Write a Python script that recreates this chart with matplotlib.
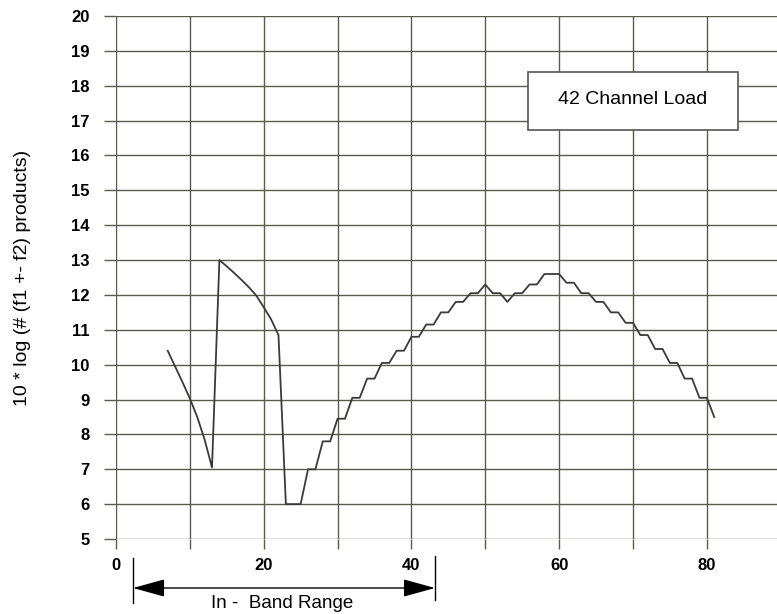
import matplotlib
matplotlib.use("Agg")
import matplotlib.pyplot as plt
from matplotlib.patches import Rectangle

plt.rcParams['font.family'] = ['Liberation Sans', 'DejaVu Sans']

# ---- data ----
channel = list(range(7, 82))
products_db = [10.4, 9.95, 9.5, 9.03, 8.5, 7.85, 7.05,            # 7-13
               13.0, 12.82, 12.63, 12.43, 12.22, 11.98, 11.65, 11.3, 10.85,  # 14-22
               6.0, 6.0, 6.0, 7.0, 7.0, 7.8, 7.8,                 # 23-29
               8.45, 8.45, 9.05, 9.05, 9.6, 9.6, 10.05, 10.05,    # 30-37
               10.4, 10.4, 10.8, 10.8, 11.15, 11.15, 11.5, 11.5,  # 38-45
               11.8, 11.8, 12.05, 12.05, 12.3, 12.05, 12.05, 11.8,  # 46-53
               12.05, 12.05, 12.3, 12.3, 12.6, 12.6, 12.6,        # 54-60
               12.35, 12.35, 12.05, 12.05, 11.8, 11.8, 11.5, 11.5,  # 61-68
               11.2, 11.2, 10.85, 10.85, 10.45, 10.45, 10.05, 10.05,  # 69-76
               9.6, 9.6, 9.05, 9.05, 8.5]                         # 77-81

x_ticks = [0, 10, 20, 30, 40, 50, 60, 70, 80]
x_tick_labels = ['0', '', '20', '', '40', '', '60', '', '80']
y_ticks = list(range(5, 21))
band_start, band_end = 2.3, 43.2
legend_text = "42 Channel Load"

W, H = 777, 614
fig = plt.figure(figsize=(W / 100, H / 100), dpi=100)
left, right, top, bottom = 116, 777, 16, 539
ax = fig.add_axes([left / W, 1 - bottom / H, (right - left) / W, (bottom - top) / H])

grid_col = '#5b5b4c'
ax.set_xlim(0, 89.5)
ax.set_ylim(5, 20)
for s in ax.spines.values():
    s.set_visible(False)
ax.set_xticks(x_ticks)
ax.set_xticklabels(x_tick_labels)
ax.set_yticks(y_ticks)
ax.set_yticklabels([str(v) for v in y_ticks])
ax.grid(True, color=grid_col, linewidth=1.0)
ax.tick_params(axis='y', direction='out', length=9, width=1.0, color=grid_col, pad=10, labelsize=12)
ax.tick_params(axis='x', direction='out', length=7, width=1.0, color=grid_col, pad=7, labelsize=12)
for lab in ax.get_xticklabels() + ax.get_yticklabels():
    lab.set_fontweight('bold')

ax.plot(channel, products_db, color='#3a3a3a', linewidth=1.3, zorder=3)

ax.set_ylabel("10 * log (# (f1 +- f2) products)", fontsize=14)
ax.yaxis.set_label_coords(-0.128, 0.5)

# legend box
rect = Rectangle((55.8, 16.73), 84.2 - 55.8, 18.39 - 16.73, facecolor='white',
                 edgecolor='#555555', linewidth=1.2, zorder=4)
ax.add_patch(rect)
ax.text((55.8 + 84.2) / 2, (16.73 + 18.39) / 2 + 0.05, legend_text, ha='center', va='center',
        fontsize=14, zorder=5)

# in-band range arrow below axis
trans = ax.get_xaxis_transform()
def ypix(p):
    return (H - p - (H - bottom)) / (bottom - top)
for xb, y0, y1 in [(band_start, 558, 603), (band_end, 556, 600)]:
    ax.plot([xb, xb], [ypix(y0), ypix(y1)], transform=trans, color='black',
            linewidth=1.0, clip_on=False)
ax.annotate('', xy=(band_start, ypix(588)), xytext=(band_end, ypix(588)),
            xycoords=trans, textcoords=trans,
            arrowprops=dict(arrowstyle='<|-|>,head_length=2.0,head_width=0.55',
                            color='black', linewidth=1.0, shrinkA=0, shrinkB=0),
            annotation_clip=False)
ax.text((band_start + band_end) / 2 - 0.3, ypix(604), "In -  Band Range", transform=trans,
        ha='center', va='center', fontsize=13.5, clip_on=False)

fig.savefig('out.png', dpi=100, facecolor='white')
